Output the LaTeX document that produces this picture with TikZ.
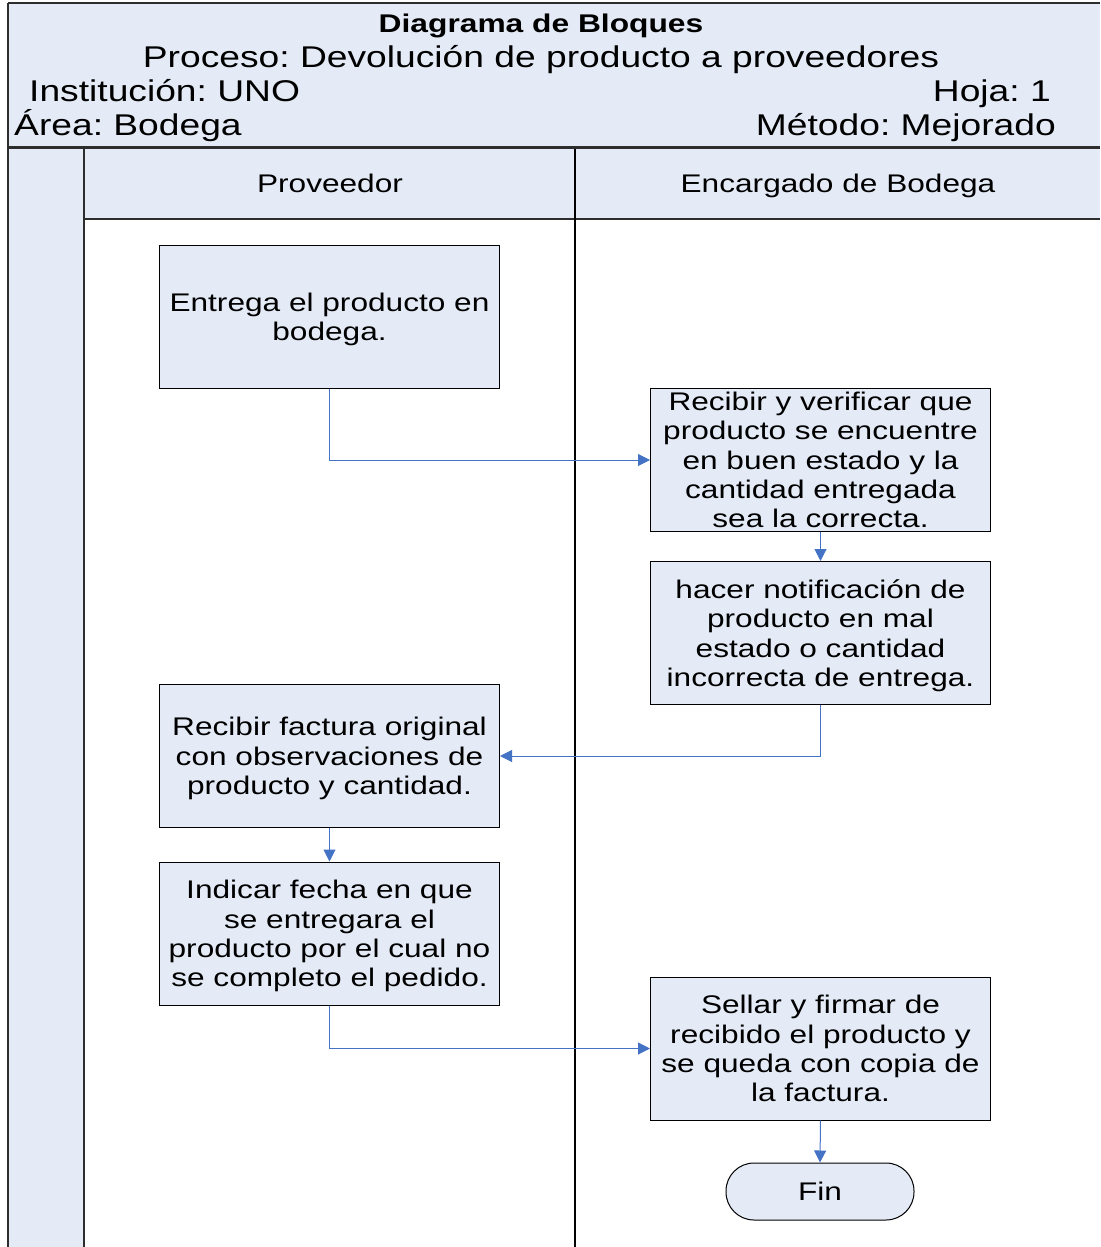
\documentclass[tikz,border=0pt]{standalone}
\usepackage{fontspec}
\setmainfont[FakeStretch=1.24]{Liberation Sans}
\frenchspacing
\usetikzlibrary{arrows.meta}
\definecolor{paleblue}{RGB}{228,235,246}
\definecolor{flowblue}{RGB}{68,114,196}
\definecolor{framegray}{RGB}{45,45,45}
\begin{document}
\begin{tikzpicture}[x=1pt,y=-1pt,
  stepbox/.style={draw=black, line width=1pt, fill=paleblue,
    minimum width=340pt, minimum height=143pt, align=center,
    inner sep=0pt, text depth=-1.5pt,
    font=\fontsize{25.5}{29.3}\selectfont},
  endbox/.style={draw=black, line width=1pt, fill=paleblue,
    minimum width=188pt, minimum height=57pt, rounded corners=28pt,
    inner sep=0pt, font=\fontsize{25.5}{29.3}\selectfont},
  flow/.style={draw=flowblue, line width=1pt, -{Triangle[length=12pt,width=12pt]}},
  headtext/.style={inner sep=0pt, font=\fontsize{30}{34}\selectfont},
  lanetext/.style={inner sep=0pt, anchor=base, font=\fontsize{25.5}{29.3}\selectfont},
  frameline/.style={draw=framegray, line width=2pt}]

\useasboundingbox (0,0) rectangle (1100,1247);

% shaded bands of the form
\fill[paleblue] (8,3) rectangle (1100,147);
\fill[paleblue] (8,149) rectangle (84,1247);
\fill[paleblue] (84,149) rectangle (1100,219);

% form rules
\draw[frameline] (8,3) -- (1100,3);
\draw[frameline] (8,3) -- (8,1247);
\draw[draw=framegray, line width=2.5pt] (8,147.5) -- (1100,147.5);
\draw[draw=framegray, line width=1.2pt] (84,219) -- (1100,219);
\draw[frameline] (84,149) -- (84,1247);
\draw[draw=black, line width=1.3pt] (575,149) -- (575,1247);

% title block (placed on baselines)
\node[inner sep=0pt, anchor=base, font=\bfseries\fontsize{25.6}{29}\selectfont] (title) at (541,32.5) {Diagrama de Bloques};
\node[headtext, anchor=base] (process) at (541,67) {Proceso: Devolución de producto a proveedores};
\node[headtext, anchor=base west] (inst) at (29,101) {Institución: UNO};
\node[headtext, anchor=base east] (sheet) at (1051,101) {Hoja: 1};
\node[headtext, anchor=base west] (area) at (14,135) {Área: Bodega};
\node[headtext, anchor=base east] (method) at (1056,135) {Método: Mejorado};

% lane headings
\node[lanetext] (laneA) at (330,192) {Proveedor};
\node[lanetext] (laneB) at (838,192) {Encargado de Bodega};

% process steps
\node[stepbox] (b1) at (329.5,316.5) {Entrega el producto en\\bodega.};
\node[stepbox] (b2) at (820.5,460) {Recibir y verificar que\\producto se encuentre\\en buen estado y la\\cantidad entregada\\sea la correcta.};
\node[stepbox] (b3) at (820.5,633) {hacer notificación de\\producto en mal\\estado o cantidad\\incorrecta de entrega.};
\node[stepbox] (b4) at (329.5,756) {Recibir factura original\\con observaciones de\\producto y cantidad.};
\node[stepbox] (b5) at (329.5,933.5) {Indicar fecha en que\\se entregara el\\producto por el cual no\\se completo el pedido.};
\node[stepbox] (b6) at (820.5,1048.5) {Sellar y firmar de\\recibido el producto y\\se queda con copia de\\la factura.};
\node[endbox] (fin) at (820,1191.5) {Fin};

% connectors
\draw[flow] (b1.south) |- (b2.west);
\draw[flow] (b2.south) -- (b3.north);
\draw[flow] (b3.south) |- (b4.east);
\draw[flow] (b4.south) -- (b5.north);
\draw[flow] (b5.south) |- (b6.west);
\draw[flow] (b6.south) -- (fin.north);
\end{tikzpicture}
\end{document}
